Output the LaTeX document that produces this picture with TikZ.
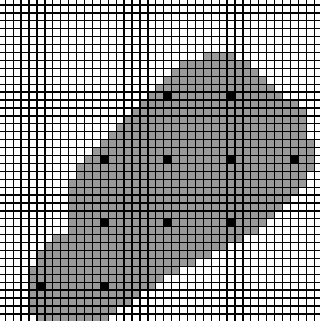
\documentclass[tikz,border=0pt]{standalone}
\usepackage{tikz}

\begin{document}
\begin{tikzpicture}[x=0.3cm, y=0.3cm]
\tikzset{gridline/.style={line width=1.4pt, black},
         region/.style={fill=black!40},
         sample/.style={fill=black}}
\useasboundingbox (-0.67,-0.9) rectangle (39.73,39.63);
\clip (-0.67,-0.9) rectangle (39.73,39.63);
\fill[white] (-0.67,-0.9) rectangle (39.73,39.63);
% gray cells, row by row from the top: row / first column / last column
\foreach \r/\a/\b in {6/25/28, 7/22/30, 8/21/31, 9/20/32, 10/19/33,
    11/18/34, 12/17/36, 13/16/37, 14/15/37, 15/14/37, 16/13/37, 17/12/38,
    18/11/38, 19/10/38, 20/9/38, 21/9/37, 22/8/37, 23/8/36, 24/8/35,
    25/8/34, 26/8/33, 27/8/32, 28/8/31, 29/6/29, 30/5/27, 31/4/25,
    32/4/23, 33/3/21, 34/3/19, 35/3/18, 36/3/16, 37/3/15, 38/3/13, 39/4/12}
  \fill[region] (\a,38-\r) rectangle (\b+1,39-\r);
% sample points
\foreach \c/\r in {4/35, 12/35, 12/27, 20/27, 28/27, 12/19, 20/19, 28/19,
    36/19, 20/11, 28/11}
  \fill[sample] (\c,38-\r) rectangle ++(1,1);
\draw[gridline, step=1] (-1,-1) grid (40,40);
\end{tikzpicture}
\end{document}
